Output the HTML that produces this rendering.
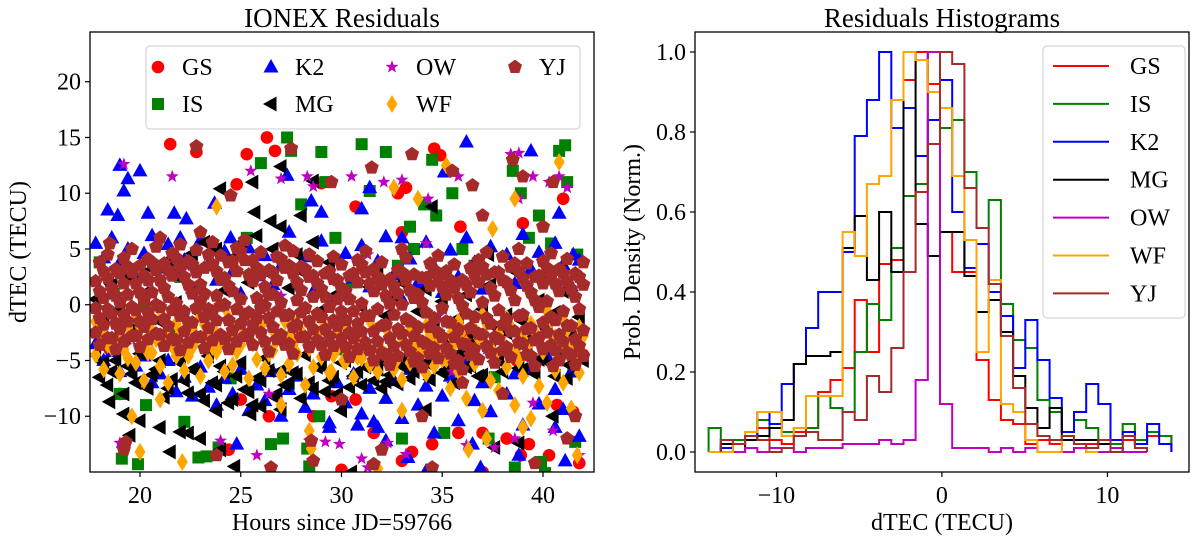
<!DOCTYPE html>
<html><head><meta charset="utf-8"><style>
html,body{margin:0;padding:0;background:#fff;}
svg{display:block;font-family:"Liberation Serif","DejaVu Serif",serif;}
</style></head><body>
<svg id="fig" width="1200" height="538" viewBox="0 0 1200 538">
<g id="left"></g>
<g id="right"></g>
</svg>
<script>
// ===== Scatter data (hours since JD=59766, dTEC in TECU) =====
const hours = [17.8,18.2,18.6,19.0,19.4,19.8,20.2,20.6,21.0,21.4,21.8,22.2,22.6,23.0,23.4,23.8,24.2,24.6,25.0,25.4,25.8,26.2,26.6,27.0,27.4,27.8,28.2,28.6,29.0,29.4,29.8,30.2,30.6,31.0,31.4,31.8,32.2,32.6,33.0,33.4,33.8,34.2,34.6,35.0,35.4,35.8,36.2,36.6,37.0,37.4,37.8,38.2,38.6,39.0,39.4,39.8,40.2,40.6,41.0,41.4,41.8];
const hours2 = [18.0,18.4,18.8,19.2,19.6,20.0,20.4,20.8,21.2,21.6,22.0,22.4,22.8,23.2,23.6,24.0,24.4,24.8,25.2,25.6,26.0,26.4,26.8,27.2,27.6,28.0,28.4,28.8,29.2,29.6,30.0,30.4,30.8,31.2,31.6,32.0,32.4,32.8,33.2,33.6,34.0,34.4,34.8,35.2,35.6,36.0,36.4,36.8,37.2,37.6,38.0,38.4,38.8,39.2,39.6,40.0,40.4,40.8,41.2,41.6,42.0];
const yjA = [2.1,3.0,1.5,2.8,3.4,1.9,2.6,3.8,2.2,3.1,4.2,2.5,3.6,1.8,4.5,3.0,2.4,3.9,4.8,2.7,3.3,1.6,2.9,4.1,3.5,2.0,3.2,2.6,1.4,3.0,2.2,1.2,2.8,3.6,1.9,2.5,0.8,1.7,2.9,1.3,0.9,2.4,3.1,1.6,2.2,0.6,1.8,2.7,3.4,1.5,2.9,2.0,3.7,2.4,1.1,2.6,3.3,1.9,2.8,1.4,2.5];
const yjB = [-0.3,0.6,-0.8,0.2,0.9,-0.5,0.4,1.1,-0.2,0.7,0.1,-0.6,1.0,0.3,-0.4,0.8,0.0,1.2,0.5,-0.7,0.6,-0.1,0.9,0.2,-0.9,0.4,-0.3,0.7,-1.1,-0.2,0.5,-1.4,-0.6,0.1,-1.0,-0.4,-1.8,-0.9,0.0,-1.5,-2.0,-0.7,-1.2,-0.3,-1.6,-2.2,-0.8,-1.1,0.2,-1.7,-0.5,-1.3,0.4,-0.9,-2.1,-0.2,0.3,-1.4,-0.6,-1.9,-0.4];
const yjC = [-2.5,-1.8,-3.0,-2.2,-1.5,-2.8,-2.0,-1.3,-2.7,-1.9,-3.2,-2.4,-1.6,-2.9,-2.1,-1.4,-3.1,-2.3,-1.7,-2.6,-1.2,-3.3,-2.0,-2.7,-3.5,-1.8,-2.9,-2.2,-3.6,-2.8,-1.9,-3.8,-3.0,-2.4,-4.1,-3.3,-4.5,-3.7,-2.6,-4.2,-4.8,-3.5,-3.9,-2.9,-4.4,-5.0,-3.6,-4.0,-2.7,-4.3,-3.1,-3.8,-2.4,-3.5,-4.6,-3.0,-2.5,-4.1,-3.3,-4.5,-3.7];
const yjD = [1.2,2.4,0.8,1.9,2.9,1.1,2.2,3.1,1.5,2.6,3.4,1.8,2.9,1.0,3.6,2.3,1.7,3.0,4.0,2.1,2.7,0.9,2.2,3.3,2.8,1.3,2.5,1.9,0.7,2.3,1.5,0.5,2.0,2.9,1.2,1.8,0.1,1.0,2.2,0.6,0.2,1.7,2.4,0.9,1.5,-0.1,1.1,2.0,2.7,0.8,2.2,1.3,3.0,1.7,0.4,1.9,2.6,1.2,2.1,0.7,1.8];
const yjE = [-1.2,-0.4,-1.7,-0.9,-0.2,-1.5,-0.7,0.0,-1.3,-0.5,-1.0,-1.6,-0.3,-1.1,-0.6,-0.1,-1.4,-0.4,-0.9,-1.8,-0.3,-1.2,-0.6,-1.0,-2.0,-0.7,-1.5,-0.8,-2.2,-1.4,-0.6,-2.5,-1.7,-1.0,-2.4,-1.9,-3.0,-2.2,-1.3,-2.8,-3.3,-2.0,-2.5,-1.5,-2.9,-3.5,-2.1,-2.6,-1.2,-2.9,-1.8,-2.4,-1.0,-2.2,-3.2,-1.6,-1.1,-2.7,-1.9,-3.1,-2.3];
const yjF = [-3.6,-3.0,-4.0,-3.3,-2.8,-3.8,-3.1,-2.6,-3.7,-3.0,-4.1,-3.4,-2.9,-3.9,-3.2,-2.7,-4.0,-3.3,-2.8,-3.6,-2.5,-4.2,-3.1,-3.6,-4.4,-2.9,-3.8,-3.2,-4.5,-3.7,-3.0,-4.7,-4.0,-3.4,-5.0,-4.3,-5.4,-4.6,-3.6,-5.1,-5.6,-4.4,-4.8,-3.9,-5.3,-5.8,-4.5,-4.9,-3.7,-5.2,-4.1,-4.7,-3.4,-4.5,-5.5,-4.0,-3.6,-5.0,-4.3,-5.4,-4.6];
const yjG = [3.8,4.5,3.2,4.2,5.0,3.5,4.1,5.2,3.7,4.6,5.4,3.9,4.9,3.3,5.6,4.4,3.8,5.1,5.8,4.0,4.7,3.1,4.3,5.3,4.8,3.4,4.5,3.9,2.8,4.3,3.6,2.6,4.0,4.8,3.2,3.8,2.3,3.1,4.2,2.7,2.4,3.7,4.4,3.0,3.6,2.2,3.3,4.0,4.7,2.9,4.3,3.4,5.0,3.7,2.5,3.9,4.6,3.2,4.1,2.8,3.8];
const yjOutX = [22.8,27.5,38.5,39.0,40.5,35.5,33.5,31.5,36.5,29.5,24.5,40.0,19.2,19.3,28.5,28.6,23.8,41.6,38.0,32.0,34.0,36.0,26.5,39.6,18.5,21.0,23.0,33.0,37.0,31.6,34.5,30.0,40.5,41.2];
const yjOutY = [14.2,14.0,13.0,11.5,11.0,12.0,13.5,12.3,10.7,11.0,9.8,7.0,-13.0,-12.3,-12.2,-14.0,-13.5,-10.0,-8.0,-13.0,-10.0,-7.0,-14.6,-14.2,5.5,6.0,6.5,5.0,8.0,-14.3,-14.6,-8.5,-5.5,-12.0];
const wfA = [-1.5,-2.8,-0.8,-3.2,-2.0,-1.2,-3.5,-2.4,-0.5,-2.9,-1.7,-3.8,-2.2,-1.0,-3.0,-2.6,-0.2,-3.4,-1.9,-2.7,-1.1,-3.6,-2.3,-0.7,-2.8,-1.6,-3.1,-2.0,-1.3,-3.7,-2.5,-1.8,-3.9,-2.9,-1.4,-3.3,-2.1,-4.0,-3.0,-2.4,-3.6,-1.9,-3.2,-4.1,-2.7,-1.5,-3.5,-2.2,-0.9,-3.8,-2.6,-1.2,-4.2,-3.0,-1.7,-3.4,-0.6,-2.9,-1.4,-3.6,-2.0];
const wfB = [-4.5,-5.8,-3.9,-6.2,-4.8,-5.2,-6.8,-4.3,-5.5,-7.0,-4.6,-5.9,-3.8,-6.4,-5.0,-4.2,-6.0,-5.4,-3.6,-6.6,-4.9,-5.7,-4.1,-6.3,-5.3,-4.4,-7.2,-5.6,-4.7,-6.1,-3.9,-5.1,-6.5,-4.8,-5.4,-6.0,-4.5,-5.8,-6.7,-5.2,-4.6,-6.2,-5.5,-4.9,-7.5,-6.0,-8.4,-5.3,-9.5,-6.8,-7.7,-5.6,-9.0,-6.4,-10.2,-7.3,-8.8,-5.9,-7.0,-9.3,-6.1];
const wfC = [-2.2,-3.6,-1.6,-4.0,-2.8,-2.0,-4.3,-3.1,-1.4,-3.7,-2.5,-4.6,-3.0,-1.8,-3.8,-3.4,-1.2,-4.2,-2.7,-3.5,-1.9,-4.4,-3.1,-1.5,-3.6,-2.4,-3.9,-2.8,-2.1,-4.5,-3.3,-2.6,-4.7,-3.7,-2.2,-4.1,-2.9,-4.8,-3.8,-3.2,-4.4,-2.7,-4.0,-4.9,-3.5,-2.3,-4.3,-3.0,-1.7,-4.6,-3.4,-2.0,-5.0,-3.8,-2.5,-4.2,-1.4,-3.7,-2.2,-4.4,-2.8];
const wfOutX = [23.8,27.0,20.0,22.1,31.8,32.6,33.8,35.2,38.6,40.8,37.5,40.3,19.6,21.0,28.4,28.5,33.0,36.3,37.2,29.5,30.1,41.7,39.0];
const wfOutY = [8.8,-9.0,-13.2,-14.1,-14.7,10.5,9.5,12.5,9.5,12.8,6.8,3.0,-10.0,-8.5,-11.3,-12.9,-9.5,-13.0,-12.0,-6.0,-5.0,-13.5,-11.0];
const mgA = [-4.5,-5.2,-6.0,-3.8,-5.5,-7.0,-4.2,-6.3,-5.0,-7.5,-3.5,-6.8,-5.8,-8.0,-4.6,-7.2,-6.0,-8.5,-5.2,-7.8,-6.6,-4.8,-8.2,-5.9,-7.0,-6.2,-4.5,-7.5,-5.4,-6.8,-8.0,-5.0,-6.4,-7.2,-4.3,-5.8,-6.9,-4.0,-5.5,-6.6,-3.6,-5.2,-4.7,-6.1,-3.2,-4.4,-5.6,-2.8,-6.3,-3.9,-5.0,-2.5,-4.3,-5.8,-3.1,-4.9,-2.2,-6.4,-3.7,-5.3,-2.9];
const mgB = [0.5,-1.2,1.8,-0.4,2.6,-2.0,1.0,3.2,-1.5,4.0,0.2,2.2,4.6,-0.8,3.5,5.0,1.3,4.2,5.5,2.0,6.2,3.0,5.0,7.0,1.5,4.5,2.8,5.6,-0.5,3.8,1.0,-1.6,2.4,-0.2,1.6,3.3,-1.0,0.6,2.0,-2.4,-0.6,1.4,-1.8,0.3,-2.8,-1.2,0.9,-3.4,-0.4,1.8,-2.2,-0.9,3.0,-1.5,-3.0,0.4,-2.0,-0.7,1.2,-2.6,-1.1];
const mgC = [-6.5,-7.2,-5.0,-8.0,-6.2,-4.4,-7.5,-5.8,-8.3,-6.7,-5.2,-7.9,-6.0,-8.6,-7.0,-5.5,-8.8,-6.4,-7.6,-9.0,-6.8,-5.9,-8.0,-7.2,-6.1,-8.4,-7.0,-5.6,-7.8,-6.5,-5.2,-7.4,-6.0,-5.6,-6.8,-5.0,-6.3,-7.1,-4.8,-6.0,-5.4,-6.7,-4.6,-5.8,-7.0,-4.2,-5.5,-6.4,-3.8,-5.1,-6.0,-4.4,-5.7,-3.9,-6.2,-4.8,-5.3,-4.1,-6.6,-4.5,-5.0];
const mgOutX = [19.2,20.0,21.0,22.0,23.0,24.0,19.5,21.5,24.7,22.4,18.5,23.8,25.5,26.0,27.0,25.6,25.7,27.0,24.0,26.5,28.0,28.6,23.2,34.5,34.2,37.3,37.6,38.8,30.5,32.0,30.0,40.5,41.3];
const mgOutY = [-9.8,-10.4,-11.0,-11.4,-12.0,-13.0,-11.7,-13.2,-14.5,-11.5,-8.7,-9.5,-9.8,-9.1,-9.4,11.0,8.3,12.4,10.4,7.5,8.0,11.1,5.6,8.8,-9.4,4.5,-12.8,-12.4,-15.0,-7.5,-9.5,-10.0,-5.4];
const k2A = [5.5,4.2,6.0,3.8,5.0,2.5,4.6,6.2,3.3,5.4,2.8,4.0,1.5,5.8,3.6,2.2,4.8,3.0,1.0,5.1,2.6,4.4,1.8,3.5,6.5,2.0,4.3,1.2,5.7,3.1,0.8,4.6,2.4,5.3,1.6,3.9,6.1,2.7,0.5,4.1,2.0,5.6,3.4,1.1,4.9,2.5,6.0,3.8,1.4,5.2,2.9,4.5,1.9,6.3,3.2,4.7,2.3,5.5,3.6,1.7,4.0];
const k2B = [-3.5,-5.0,-4.2,-6.0,-3.0,-5.5,-4.6,-7.0,-6.2,-5.0,-7.8,-6.5,-8.2,-5.6,-7.4,-9.0,-6.6,-8.0,-5.8,-9.5,-7.2,-8.6,-6.0,-10.0,-7.6,-6.4,-9.2,-8.0,-5.5,-10.6,-7.0,-8.8,-6.2,-9.8,-7.5,-11.0,-8.4,-6.8,-10.2,-5.8,-9.0,-7.3,-11.5,-8.2,-6.4,-10.4,-5.2,-8.6,-7.0,-9.6,-4.8,-8.0,-6.2,-10.8,-5.6,-8.9,-4.6,-7.6,-9.4,-6.0,-11.8];
const k2OutX = [19.0,19.4,19.2,18.4,18.9,20.4,21.7,22.3,23.7,20.0,22.0,24.5,27.3,28.5,29.0,31.0,31.4,35.1,36.2,39.4,40.8,41.5,33.0,34.2,33.3,24.8,36.9,38.8,41.1,40.6,30.8,31.6,32.2,29.4,36.5];
const k2OutY = [12.5,11.3,10.2,8.5,8.0,8.2,8.2,7.7,9.1,12.0,6.0,6.0,11.6,9.3,8.3,8.6,10.5,11.9,14.6,13.8,8.2,4.5,6.0,-14.9,-13.7,-12.5,-14.6,-13.5,-14.0,-11.0,-10.8,-10.5,-12.2,-11.0,-12.5];
const isX = [18.0,18.7,19.0,20.3,19.1,19.9,21.5,22.2,22.9,23.3,23.9,24.5,26.0,26.5,27.1,27.3,27.5,28.0,29.0,29.2,28.4,28.3,28.9,31.0,31.4,32.2,32.8,33.4,33.6,34.1,34.5,34.7,35.5,36.0,36.6,37.3,37.6,38.5,38.9,39.3,39.8,40.4,40.8,41.1,41.2,41.7,41.5,38.6,39.9,40.1,41.6,35.1,30.5,26.0,22.0,30.0,29.7,33.0,20.2,25.3];
const isY = [3.8,1.0,-8.0,-9.0,-13.8,-14.3,-2.0,-10.5,-13.7,-13.6,-12.8,-6.6,12.7,-12.5,-12.0,15.0,13.8,9.0,13.7,11.0,-14.5,-12.9,-10.0,14.4,10.2,13.7,3.5,7.0,5.0,9.0,13.0,8.0,10.0,5.0,3.5,-12.0,-6.5,12.0,10.0,6.0,8.0,5.5,13.8,14.3,11.0,4.5,-6.0,-14.6,-14.1,-15.1,-12.3,-11.5,2.0,0.0,2.5,-4.0,6.0,-12.0,0.0,6.0];
const gsX = [21.5,22.8,24.8,25.3,26.3,26.7,29.0,30.7,32.8,33.2,33.0,34.6,35.9,34.9,39.0,41.0,38.7,38.2,38.9,40.3,41.8,39.3,37.0,35.8,34.5,33.0,33.5,30.0,31.6,30.7,29.5,28.6,24.4,19.3,19.0,18.5,25.0,26.4,32.5,37.0,40.7,41.5,42.0,36.4,27.5];
const gsY = [14.4,13.7,10.8,13.5,15.0,13.8,10.9,8.8,10.0,10.5,6.5,14.0,7.0,13.4,7.3,9.5,-5.0,-12.0,-13.5,-13.5,-14.2,-12.5,-15.0,-11.5,-12.5,-14.0,-13.2,-14.8,-11.5,-8.5,-8.2,-10.0,-13.0,-3.2,-8.0,-4.0,-8.5,-10.0,-5.0,-11.5,-9.0,-9.6,-4.5,-3.0,-3.0];
const owX = [19.2,21.6,25.5,27.0,28.6,28.3,30.5,32.1,33.0,34.3,35.8,38.4,38.8,39.5,40.3,40.8,41.2,38.8,31.3,34.2,19.0,25.8,24.0,28.4,29.2,29.9,31.0,32.3,33.2,36.2,37.6,38.6,40.5,41.8,22.4,27.0,30.0,33.5,35.5,37.2,39.5,31.3,34.8,26.4,41.0,36.0,20.5,19.6];
const owY = [12.6,11.5,12.0,11.3,10.6,11.5,11.5,11.0,11.2,9.5,11.5,13.5,13.6,11.5,11.0,11.5,10.5,9.5,4.5,5.5,-12.4,-13.5,-12.2,-12.2,-12.3,-12.5,-13.8,-12.4,-13.4,-12.6,-12.8,-12.0,-11.3,-13.5,3.5,0.8,-1.2,-4.0,-6.0,-4.0,-8.8,-14.6,-1.0,-8.0,2.0,-0.5,2.0,-0.5];

// ===== Histogram data (bin k spans [binStart + k*binWidth, ...]) =====
const binStart = -14.1;
const binWidth = 0.736;
const histGS = [null,0.03,0.02,0.03,0.06,0.03,0.02,0.05,0.06,0.15,0.18,0.21,0.38,0.25,0.47,0.48,0.93,1.0,0.92,0.55,0.45,0.45,0.23,0.13,0.08,0.07,0.02,0.03,0.02,0.03,0.02,0.02,0.03,0.02,0.03,0.02,0.04,0.04];
const histIS = [0.06,0.03,0.03,0.04,0.08,0.06,0.05,0.06,0.06,0.14,0.11,0.1,0.25,0.37,0.33,0.51,0.64,0.67,1.0,0.81,0.83,0.7,0.56,0.63,0.37,0.28,0.26,0.13,0.1,0.05,0.08,0.06,0.03,0.02,0.07,0.03,0.05,0.04];
const histK2 = [null,0.01,0.02,0.03,0.1,0.07,0.17,0.22,0.31,0.4,0.4,0.5,0.79,0.88,1.0,0.81,0.86,0.74,0.83,0.93,0.6,0.46,0.52,0.4,0.34,0.21,0.33,0.23,0.135,0.05,0.1,0.17,0.12,0.03,0.05,0.02,0.07,0.02];
const histMG = [null,0.02,0.0,0.03,0.04,0.06,0.08,0.22,0.24,0.24,0.25,0.51,0.59,0.43,0.6,0.45,1.0,0.57,0.49,0.55,0.55,0.44,0.35,0.38,0.3,0.19,0.11,0.06,0.11,0.03,0.03,0.03,0.02,0.01,null,null,null,null];
const histOW = [null,0.0,0.0,0.01,0.0,0.01,0.01,0.0,0.01,0.01,0.01,0.02,0.02,0.02,0.03,0.02,0.03,0.18,1.0,0.12,0.01,0.01,0.01,0.0,0.01,0.0,0.01,0.0,0.0,0.0,0.01,0.0,0.0,0.01,0.0,0.0,null,null];
const histWF = [0.0,0.0,0.02,0.05,0.1,0.1,0.04,0.06,0.14,0.14,0.14,0.55,0.49,0.67,0.69,0.88,1.0,0.98,0.9,0.86,0.69,0.53,0.25,0.43,0.12,0.1,0.03,0.0,0.0,0.04,0.02,0.0,null,null,null,null,null,null];
const histYJ = [null,0.03,0.02,0.04,0.03,0.0,0.01,0.04,0.05,0.03,0.03,0.1,0.08,0.19,0.15,0.26,0.45,0.65,0.77,1.0,0.97,0.66,0.56,0.42,0.29,0.16,0.07,0.04,0.03,0.04,0.02,0.01,0.03,0.0,0.04,0.01,null,null];

// ===== Tick labels =====
const lxTicks = [20,25,30,35,40];
const lyTicks = [-10,-5,0,5,10,15,20];
const rxTicks = [-10,0,10];
const ryTicks = [0.0,0.2,0.4,0.6,0.8,1.0];
const seriesNames = ["GS","IS","K2","MG","OW","WF","YJ"];

const NS = "http://www.w3.org/2000/svg";
const C = {GS:"#ff0000",IS:"#008000",K2:"#0000ff",MG:"#000000",OW:"#bf00bf",WF:"#ffa500",YJ:"#a52a2a"};

const L = {x0:90,x1:594,y0:32,y1:472,xmin:17.52,xmax:42.53,ymin:-15.0,ymax:24.46};
const R = {x0:695,x1:1189,y0:32,y1:472,xmin:-14.92,xmax:14.93,ymin:-0.05,ymax:1.05};
function sx(a,v){return a.x0+(v-a.xmin)/(a.xmax-a.xmin)*(a.x1-a.x0);}
function sy(a,v){return a.y1-(v-a.ymin)/(a.ymax-a.ymin)*(a.y1-a.y0);}

function mk(tag,attrs,parent){const e=document.createElementNS(NS,tag);for(const k in attrs)e.setAttribute(k,attrs[k]);parent.appendChild(e);return e;}
function txt(parent,x,y,s,size,anchor,extra){const t=mk("text",Object.assign({x:x,y:y,"font-size":size,"text-anchor":anchor||"middle",fill:"#000"},extra||{}),parent);t.textContent=s;return t;}
function fmt(v){return (v<0?"\u2212":"")+Math.abs(v);}

function markerPath(kind,x,y){
  const p=[];
  if(kind==="tri"){return `M${x},${y-8}L${x+7.5},${y+5.5}L${x-7.5},${y+5.5}Z`;}
  if(kind==="ltri"){return `M${x-8},${y}L${x+5.5},${y-7.5}L${x+5.5},${y+7.5}Z`;}
  if(kind==="sq"){return `M${x-6},${y-6}h12v12h-12Z`;}
  if(kind==="dia"){return `M${x},${y-9}L${x+5.5},${y}L${x},${y+9}L${x-5.5},${y}Z`;}
  if(kind==="pent"){for(let i=0;i<5;i++){const a=-Math.PI/2+i*2*Math.PI/5;p.push((x+7.4*Math.cos(a)).toFixed(1)+","+(y+7.4*Math.sin(a)).toFixed(1));}return "M"+p.join("L")+"Z";}
  if(kind==="star"){for(let i=0;i<10;i++){const a=-Math.PI/2+i*Math.PI/5;const r=i%2?2.8:6.8;p.push((x+r*Math.cos(a)).toFixed(1)+","+(y+r*Math.sin(a)).toFixed(1));}return "M"+p.join("L")+"Z";}
  return "";
}
function drawMarker(g,kind,x,y,color){
  if(kind==="circ"){return mk("circle",{cx:x,cy:y,r:6.3,fill:color},g);}
  return mk("path",{d:markerPath(kind,x,y),fill:color},g);
}

// ===== LEFT PANEL =====
const lg=document.getElementById("left");
const clipL=mk("clipPath",{id:"clipL"},lg);mk("rect",{x:L.x0,y:L.y0,width:L.x1-L.x0,height:L.y1-L.y0},clipL);
const plotL=mk("g",{"clip-path":"url(#clipL)"},lg);



function scatter(name,kind,xs,ys){
  const g=mk("g",{},plotL);
  
  
  for(let i=0;i<xs.length;i++){
    if(ys[i]==null)continue;
    const m=drawMarker(g,kind,sx(L,xs[i]),sy(L,ys[i]),C[name]);
    
    
  }
}
scatter("GS","circ",gsX,gsY);
scatter("IS","sq",isX,isY);
scatter("K2","tri",hours,k2A);scatter("K2","tri",hours,k2B);scatter("K2","tri",k2OutX,k2OutY);
scatter("MG","ltri",hours,mgA);scatter("MG","ltri",hours,mgB);scatter("MG","ltri",hours2,mgC);scatter("MG","ltri",mgOutX,mgOutY);
scatter("OW","star",owX,owY);
scatter("WF","dia",hours,wfA);scatter("WF","dia",hours,wfB);scatter("WF","dia",hours2,wfC);scatter("WF","dia",wfOutX,wfOutY);
scatter("YJ","pent",hours,yjA);scatter("YJ","pent",hours,yjB);scatter("YJ","pent",hours,yjC);
scatter("YJ","pent",hours2,yjD);scatter("YJ","pent",hours2,yjE);scatter("YJ","pent",hours2,yjF);scatter("YJ","pent",hours2,yjG);
scatter("YJ","pent",yjOutX,yjOutY);

const frameL=mk("rect",{x:L.x0,y:L.y0,width:L.x1-L.x0,height:L.y1-L.y0,fill:"none",stroke:"#000","stroke-width":1.3},lg);


lxTicks.forEach(v=>{const x=sx(L,v);mk("line",{x1:x,x2:x,y1:L.y1,y2:L.y1+5,stroke:"#000","stroke-width":1.2},lg);
  const t=txt(lg,x,L.y1+31,fmt(v),24);});
lyTicks.forEach(v=>{const y=sy(L,v);mk("line",{x1:L.x0-5,x2:L.x0,y1:y,y2:y,stroke:"#000","stroke-width":1.2},lg);
  const t=txt(lg,L.x0-9,y+8,fmt(v),24,"end");});
const tL=txt(lg,342,27,"IONEX Residuals",27);
const xlL=txt(lg,342,530,"Hours since JD=59766",24);
const ylL=txt(lg,0,0,"dTEC (TECU)",24,"middle",{transform:"translate(26,252) rotate(-90)"});

const legL=mk("g",{},lg);


mk("rect",{x:146,y:46,width:434,height:83,rx:4,fill:"#fff","fill-opacity":0.8,stroke:"#ccc","stroke-width":1},legL);
const legKinds={GS:"circ",IS:"sq",K2:"tri",MG:"ltri",OW:"star",WF:"dia",YJ:"pent"};
const colX=[158,271,392,515];const rowY=[67,104];
seriesNames.forEach((n,i)=>{const c=Math.floor(i/2),r=i%2;
  const e=mk("g",{},legL);
  
  
  drawMarker(e,legKinds[n],colX[c],rowY[r],C[n]);
  txt(e,colX[c]+24,rowY[r]+8,n,24,"start");});

// ===== RIGHT PANEL =====
const rg=document.getElementById("right");
const clipR=mk("clipPath",{id:"clipR"},rg);mk("rect",{x:R.x0,y:R.y0,width:R.x1-R.x0,height:R.y1-R.y0},clipR);
const plotR=mk("g",{"clip-path":"url(#clipR)"},rg);


function histStep(name,vals){
  let first=vals.findIndex(v=>v!=null);let last=vals.length-1;while(vals[last]==null)last--;
  let d=`M${sx(R,binStart+first*binWidth).toFixed(1)},${sy(R,0).toFixed(1)}`;
  for(let k=first;k<=last;k++){const xa=sx(R,binStart+k*binWidth),xb=sx(R,binStart+(k+1)*binWidth),y=sy(R,vals[k]);
    d+=`L${xa.toFixed(1)},${y.toFixed(1)}L${xb.toFixed(1)},${y.toFixed(1)}`;}
  d+=`L${sx(R,binStart+(last+1)*binWidth).toFixed(1)},${sy(R,0).toFixed(1)}`;
  const p=mk("path",{d:d,fill:"none",stroke:C[name],"stroke-width":2,"stroke-linejoin":"miter"},plotR);
  
  
}
histStep("GS",histGS);histStep("IS",histIS);histStep("K2",histK2);histStep("MG",histMG);
histStep("OW",histOW);histStep("WF",histWF);histStep("YJ",histYJ);

const frameR=mk("rect",{x:R.x0,y:R.y0,width:R.x1-R.x0,height:R.y1-R.y0,fill:"none",stroke:"#000","stroke-width":1.3},rg);


rxTicks.forEach(v=>{const x=sx(R,v);mk("line",{x1:x,x2:x,y1:R.y1,y2:R.y1+5,stroke:"#000","stroke-width":1.2},rg);
  const t=txt(rg,x,R.y1+31,fmt(v),24);});
ryTicks.forEach(v=>{const y=sy(R,v);mk("line",{x1:R.x0-5,x2:R.x0,y1:y,y2:y,stroke:"#000","stroke-width":1.2},rg);
  const t=txt(rg,R.x0-9,y+8,v.toFixed(1),24,"end");});
const tR=txt(rg,942,27,"Residuals Histograms",27);
const xlR=txt(rg,942,530,"dTEC (TECU)",24);
const ylR=txt(rg,0,0,"Prob. Density (Norm.)",24,"middle",{transform:"translate(640,252) rotate(-90)"});

const legR=mk("g",{},rg);


mk("rect",{x:1043,y:46,width:142,height:272,rx:4,fill:"#fff","fill-opacity":0.8,stroke:"#ccc","stroke-width":1},legR);
seriesNames.forEach((n,i)=>{const y=66+i*37.9;
  const e=mk("g",{},legR);
  
  
  mk("line",{x1:1053,x2:1109,y1:y,y2:y,stroke:C[n],"stroke-width":2},e);
  txt(e,1130,y+8,n,24,"start");});
</script>
</body></html>
